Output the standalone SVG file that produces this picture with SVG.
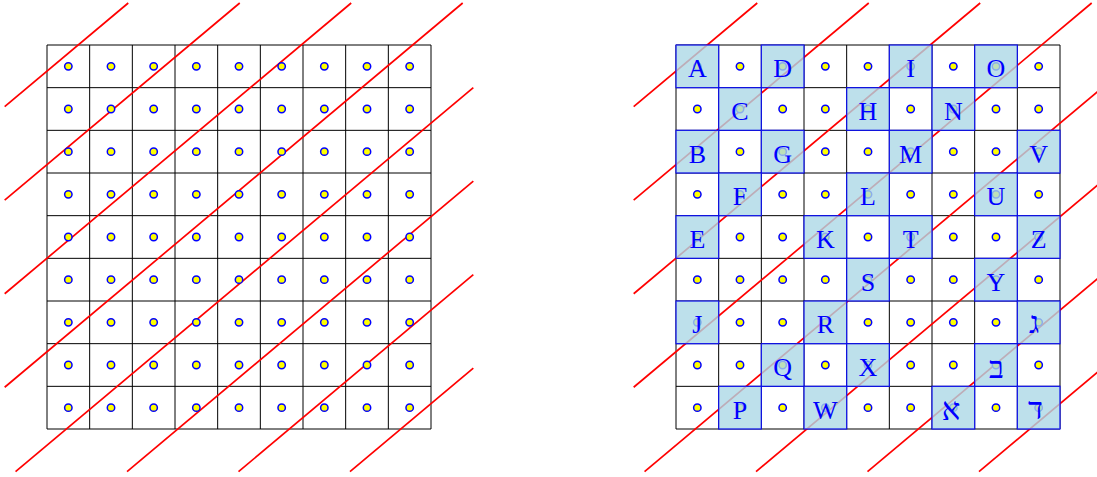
<svg xmlns="http://www.w3.org/2000/svg" xmlns:xlink="http://www.w3.org/1999/xlink" width="1097" height="477" viewBox="0 0 1097 477">
<style>
.grid line{stroke:#000;stroke-width:1}
.red line{stroke:#ff0000;stroke-width:1.7;stroke-linecap:butt}
.dot{fill:#ffff00;stroke:#0000ff;stroke-width:1.5}
.cell{fill:#add8e6;fill-opacity:0.8;stroke:#0000ff;stroke-opacity:0.8;stroke-width:1.3}
.lab{font-family:"Liberation Serif","DejaVu Serif",serif;font-size:26px;fill:#0000ff;text-anchor:middle}
.heb{font-family:"Liberation Serif","DejaVu Sans",serif;font-size:31px;fill:#0000ff;text-anchor:middle}
</style>
<defs>
<g id="gridlines" class="grid">
<line x1="0" y1="0" x2="384" y2="0"/><line x1="0" y1="42.667" x2="384" y2="42.667"/><line x1="0" y1="85.333" x2="384" y2="85.333"/><line x1="0" y1="128" x2="384" y2="128"/><line x1="0" y1="170.667" x2="384" y2="170.667"/><line x1="0" y1="213.333" x2="384" y2="213.333"/><line x1="0" y1="256" x2="384" y2="256"/><line x1="0" y1="298.667" x2="384" y2="298.667"/><line x1="0" y1="341.333" x2="384" y2="341.333"/><line x1="0" y1="384" x2="384" y2="384"/>
<line x1="0" y1="0" x2="0" y2="384"/><line x1="42.667" y1="0" x2="42.667" y2="384"/><line x1="85.333" y1="0" x2="85.333" y2="384"/><line x1="128" y1="0" x2="128" y2="384"/><line x1="170.667" y1="0" x2="170.667" y2="384"/><line x1="213.333" y1="0" x2="213.333" y2="384"/><line x1="256" y1="0" x2="256" y2="384"/><line x1="298.667" y1="0" x2="298.667" y2="384"/><line x1="341.333" y1="0" x2="341.333" y2="384"/><line x1="384" y1="0" x2="384" y2="384"/>
</g>
<g id="redlines" class="red">
<line x1="4.67" y1="106.68" x2="128.25" y2="3"/>
<line x1="4.67" y1="200.21" x2="239.73" y2="3"/>
<line x1="4.67" y1="293.74" x2="351.2" y2="3"/>
<line x1="4.67" y1="387.27" x2="462.68" y2="3"/>
<line x1="15.55" y1="471.67" x2="473.33" y2="87.6"/>
<line x1="127.03" y1="471.67" x2="473.33" y2="181.13"/>
<line x1="238.51" y1="471.67" x2="473.33" y2="274.66"/>
<line x1="349.99" y1="471.67" x2="473.33" y2="368.19"/>
</g>
<g id="dotrow">
<circle class="dot" cx="21.333" cy="0" r="3.7"/><circle class="dot" cx="64" cy="0" r="3.7"/><circle class="dot" cx="106.667" cy="0" r="3.7"/><circle class="dot" cx="149.333" cy="0" r="3.7"/><circle class="dot" cx="192" cy="0" r="3.7"/><circle class="dot" cx="234.667" cy="0" r="3.7"/><circle class="dot" cx="277.333" cy="0" r="3.7"/><circle class="dot" cx="320" cy="0" r="3.7"/><circle class="dot" cx="362.667" cy="0" r="3.7"/>
</g>
</defs>

<g id="left-panel">
<use xlink:href="#gridlines" transform="translate(47,45)"/>
<use xlink:href="#redlines"/>
<g id="left-dots">
<use xlink:href="#dotrow" transform="translate(47,66.333)"/>
<use xlink:href="#dotrow" transform="translate(47,109)"/>
<use xlink:href="#dotrow" transform="translate(47,151.667)"/>
<use xlink:href="#dotrow" transform="translate(47,194.333)"/>
<use xlink:href="#dotrow" transform="translate(47,237)"/>
<use xlink:href="#dotrow" transform="translate(47,279.667)"/>
<use xlink:href="#dotrow" transform="translate(47,322.333)"/>
<use xlink:href="#dotrow" transform="translate(47,365)"/>
<use xlink:href="#dotrow" transform="translate(47,407.667)"/>
</g>
</g>

<g id="right-panel">
<use xlink:href="#gridlines" transform="translate(676,45)"/>
<use xlink:href="#redlines" transform="translate(629,0)"/>
<g id="right-dots">
<use xlink:href="#dotrow" transform="translate(676,66.333)"/>
<use xlink:href="#dotrow" transform="translate(676,109)"/>
<use xlink:href="#dotrow" transform="translate(676,151.667)"/>
<use xlink:href="#dotrow" transform="translate(676,194.333)"/>
<use xlink:href="#dotrow" transform="translate(676,237)"/>
<use xlink:href="#dotrow" transform="translate(676,279.667)"/>
<use xlink:href="#dotrow" transform="translate(676,322.333)"/>
<use xlink:href="#dotrow" transform="translate(676,365)"/>
<use xlink:href="#dotrow" transform="translate(676,407.667)"/>
</g>

<g id="node-A"><rect class="cell" x="676" y="45" width="42.667" height="42.667"/><text class="lab" x="697.33" y="77.33">A</text></g>
<g id="node-D"><rect class="cell" x="761.333" y="45" width="42.667" height="42.667"/><text class="lab" x="782.67" y="77.33">D</text></g>
<g id="node-I"><rect class="cell" x="889.333" y="45" width="42.667" height="42.667"/><text class="lab" x="910.67" y="77.33">I</text></g>
<g id="node-O"><rect class="cell" x="974.667" y="45" width="42.667" height="42.667"/><text class="lab" x="996" y="77.33">O</text></g>

<g id="node-C"><rect class="cell" x="718.667" y="87.667" width="42.667" height="42.667"/><text class="lab" x="740" y="120">C</text></g>
<g id="node-H"><rect class="cell" x="846.667" y="87.667" width="42.667" height="42.667"/><text class="lab" x="868" y="120">H</text></g>
<g id="node-N"><rect class="cell" x="932" y="87.667" width="42.667" height="42.667"/><text class="lab" x="953.33" y="120">N</text></g>

<g id="node-B"><rect class="cell" x="676" y="130.333" width="42.667" height="42.667"/><text class="lab" x="697.33" y="162.67">B</text></g>
<g id="node-G"><rect class="cell" x="761.333" y="130.333" width="42.667" height="42.667"/><text class="lab" x="782.67" y="162.67">G</text></g>
<g id="node-M"><rect class="cell" x="889.333" y="130.333" width="42.667" height="42.667"/><text class="lab" x="910.67" y="162.67">M</text></g>
<g id="node-V"><rect class="cell" x="1017.333" y="130.333" width="42.667" height="42.667"/><text class="lab" x="1038.67" y="162.67">V</text></g>

<g id="node-F"><rect class="cell" x="718.667" y="173" width="42.667" height="42.667"/><text class="lab" x="740" y="205.33">F</text></g>
<g id="node-L"><rect class="cell" x="846.667" y="173" width="42.667" height="42.667"/><text class="lab" x="868" y="205.33">L</text></g>
<g id="node-U"><rect class="cell" x="974.667" y="173" width="42.667" height="42.667"/><text class="lab" x="996" y="205.33">U</text></g>

<g id="node-E"><rect class="cell" x="676" y="215.667" width="42.667" height="42.667"/><text class="lab" x="697.33" y="248">E</text></g>
<g id="node-K"><rect class="cell" x="804" y="215.667" width="42.667" height="42.667"/><text class="lab" x="825.33" y="248">K</text></g>
<g id="node-T"><rect class="cell" x="889.333" y="215.667" width="42.667" height="42.667"/><text class="lab" x="910.67" y="248">T</text></g>
<g id="node-Z"><rect class="cell" x="1017.333" y="215.667" width="42.667" height="42.667"/><text class="lab" x="1038.67" y="248">Z</text></g>

<g id="node-S"><rect class="cell" x="846.667" y="258.333" width="42.667" height="42.667"/><text class="lab" x="868" y="290.67">S</text></g>
<g id="node-Y"><rect class="cell" x="974.667" y="258.333" width="42.667" height="42.667"/><text class="lab" x="996" y="290.67">Y</text></g>

<g id="node-J"><rect class="cell" x="676" y="301" width="42.667" height="42.667"/><text class="lab" x="697.33" y="333.33">J</text></g>
<g id="node-R"><rect class="cell" x="804" y="301" width="42.667" height="42.667"/><text class="lab" x="825.33" y="333.33">R</text></g>
<g id="node-gimel"><rect class="cell" x="1017.333" y="301" width="42.667" height="42.667"/><text class="heb" x="1034" y="333.33">ג</text></g>

<g id="node-Q"><rect class="cell" x="761.333" y="343.667" width="42.667" height="42.667"/><text class="lab" x="782.67" y="376">Q</text></g>
<g id="node-X"><rect class="cell" x="846.667" y="343.667" width="42.667" height="42.667"/><text class="lab" x="868" y="376">X</text></g>
<g id="node-bet"><rect class="cell" x="974.667" y="343.667" width="42.667" height="42.667"/><text class="heb" x="996.5" y="377.5">ב</text></g>

<g id="node-P"><rect class="cell" x="718.667" y="386.333" width="42.667" height="42.667"/><text class="lab" x="740" y="418.67">P</text></g>
<g id="node-W"><rect class="cell" x="804" y="386.333" width="42.667" height="42.667"/><text class="lab" x="825.33" y="418.67">W</text></g>
<g id="node-alef"><rect class="cell" x="932" y="386.333" width="42.667" height="42.667"/><text class="heb" x="951" y="419.5">א</text></g>
<g id="node-dalet"><rect class="cell" x="1017.333" y="386.333" width="42.667" height="42.667"/><text class="heb" x="1035.5" y="418.67">ד</text></g>
</g>
</svg>
